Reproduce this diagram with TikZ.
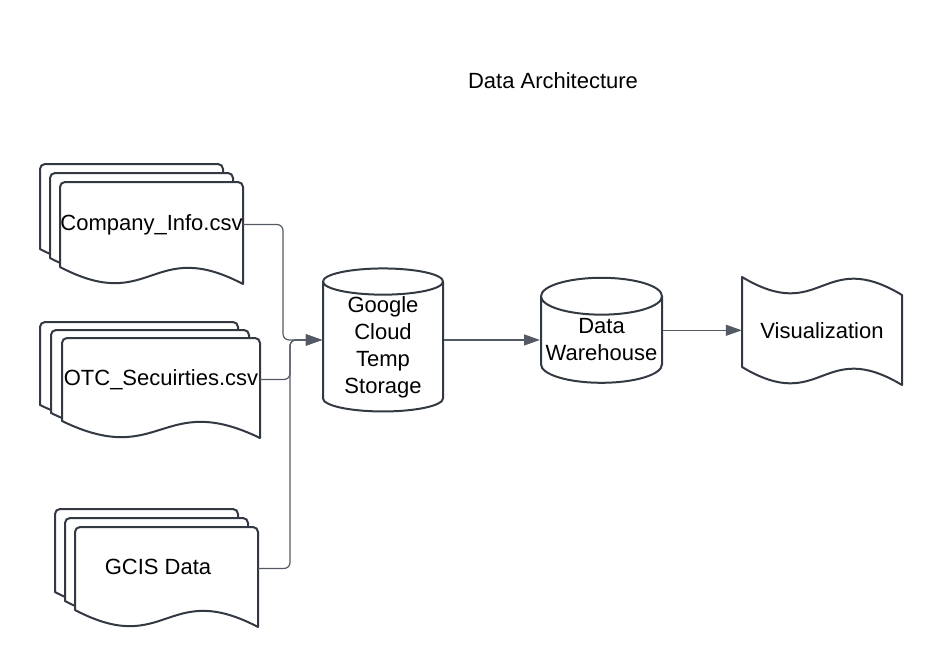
\documentclass[tikz,border=0pt]{standalone}
\usepackage{fontspec}
\setmainfont{Liberation Sans}
\usetikzlibrary{shapes,arrows.meta,positioning}

\definecolor{edgegray}{RGB}{51,57,67}
\definecolor{linkgray}{RGB}{84,90,100}

% one sheet of a document stack: left, top, width, height of the left side
\newcommand{\docsheet}[4]{%
  \draw[sheet] (#1,#2+#4) -- (#1,#2+5) arc[start angle=180,end angle=270,radius=5]
    -- (#1+#3-5,#2) arc[start angle=270,end angle=360,radius=5]
    -- (#1+#3,#2+#4+17)
    .. controls (#1+#3/2,#2+#4-31) and (#1+#3/2,#2+#4+48) .. (#1,#2+#4) -- cycle;}

\begin{document}
\begin{tikzpicture}[x=1pt, y=-1pt,
    every node/.style={font=\fontsize{22}{27}\selectfont},
    sheet/.style={draw=edgegray, line width=2pt, fill=white, line join=round},
    sheetbody/.style={inner sep=0pt},
    store/.style={cylinder, shape border rotate=90, draw=edgegray, line width=2pt, align=center, inner sep=0pt},
    link/.style={draw=linkgray, line width=1.2pt, rounded corners=6pt, -{Triangle[length=16pt,width=11pt]}}]
    \useasboundingbox (0,0) rectangle (942,669);

    \node (title) at (553,81) {Data Architecture};

    % source files
    \docsheet{40}{164}{183}{85}
    \docsheet{50}{173}{183}{85}
    \docsheet{60}{182}{183}{85}
    \node (companyinfo) [sheetbody, minimum width=183, minimum height=85] at (151.5,224.5) {Company\_Info.csv};

    \docsheet{40}{322}{198}{83}
    \docsheet{51}{330}{198}{83}
    \docsheet{62}{338}{198}{83}
    \node (otcsec) [sheetbody, minimum width=198, minimum height=83] at (161,379.5) {OTC\_Secuirties.csv};

    \docsheet{55}{509}{183}{83}
    \docsheet{65}{518}{183}{83}
    \docsheet{75}{527}{183}{83}
    \node (gcis) [sheetbody, minimum width=183, minimum height=83] at (166.5,568.5) {};
    \node (gcislabel) at (158,567) {GCIS Data};

    % storage
    \node (gcloud) [store, minimum width=120, minimum height=143, aspect=0.34] at (383,347) {Google\\Cloud\\Temp\\Storage};
    \node (warehouse) [store, minimum width=121, minimum height=105, aspect=0.33] at (601.5,340) {Data\\Warehouse};

    % output
    \draw[sheet] (742,277) .. controls (822,325) and (822,247) .. (902,295) -- (902,385)
        .. controls (822,337) and (822,415) .. (742,367) -- cycle;
    \node (viz) [sheetbody, minimum width=160, minimum height=90] at (822,331) {Visualization};

    \coordinate (bendA) at (283,0);
    \coordinate (bendB) at (290,0);
    \draw[link] (companyinfo.east) -| (bendA |- gcloud.shape center) -- (gcloud.west |- gcloud.shape center);
    \draw[link] (otcsec.east) -| (bendB |- gcloud.shape center) -- (gcloud.west |- gcloud.shape center);
    \draw[link] (gcis.east) -| (bendB |- gcloud.shape center) -- (gcloud.west |- gcloud.shape center);
    \draw[link] (gcloud.east |- gcloud.shape center) -- (warehouse.west |- gcloud.shape center);
    \draw[link] (warehouse.east |- warehouse.shape center) -- (viz.west |- warehouse.shape center);
\end{tikzpicture}
\end{document}
